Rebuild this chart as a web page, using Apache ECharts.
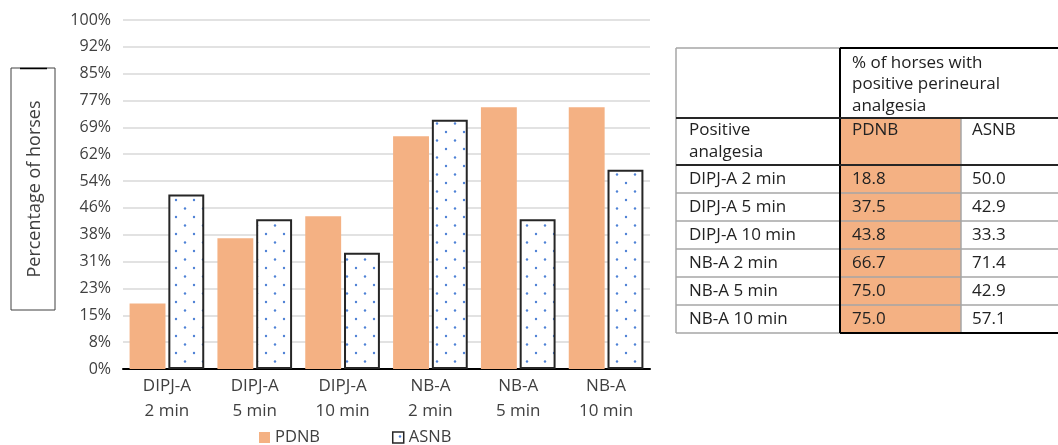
<!DOCTYPE html>
<html><head><meta charset="utf-8">
<script src="https://cdn.jsdelivr.net/npm/echarts@6.0.0/dist/echarts.min.js"></script>
<style>html,body{margin:0;padding:0;background:#fff}#c{width:1058px;height:445px}</style>
</head><body><div id="c"></div>
<script>
const categories = ['DIPJ-A\n2 min', 'DIPJ-A\n5 min', 'DIPJ-A\n10 min', 'NB-A\n2 min', 'NB-A\n5 min', 'NB-A\n10 min'];
const pdnb = [18.8, 37.5, 43.8, 66.7, 75.0, 75.0];
const asnb = [50.0, 42.9, 33.3, 71.4, 42.9, 57.1];
const yTickLabels = ['0%','8%','15%','23%','31%','38%','46%','54%','62%','69%','77%','85%','92%','100%'];
const seriesNames = ['PDNB', 'ASNB'];
const yTitle = 'Percentage of horses';
const tableTitle = ['% of horses with', 'positive perineural', 'analgesia'];
const tableRowHead = ['Positive', 'analgesia'];

const FONT = '"Open Sans", sans-serif';
const ORANGE = '#f4b183';
const GRAY = '#a6a6a6';

// dotted pattern for ASNB
const pc = document.createElement('canvas');
pc.width = 18; pc.height = 17;
const pctx = pc.getContext('2d');
pctx.fillStyle = '#fff'; pctx.fillRect(0, 0, 18, 17);
pctx.fillStyle = '#4f82d6';
pctx.beginPath(); pctx.arc(5, 4.5, 1.2, 0, Math.PI * 2); pctx.fill();
pctx.beginPath(); pctx.arc(14, 13, 1.2, 0, Math.PI * 2); pctx.fill();

const chart = echarts.init(document.getElementById('c'), null, {renderer: 'canvas'});

// table geometry
const cx = [676, 840, 961, 1058];
const ry = [48, 118, 165, 193, 221, 249, 277, 305, 333];
const g = [];
function line(x1, y1, x2, y2, color, w) {
  g.push({type: 'line', z: 10, shape: {x1, y1, x2, y2}, style: {stroke: color, lineWidth: w}});
}
function txt(x, y, s) {
  g.push({type: 'text', z: 11, x, y, style: {text: s, font: '17px ' + FONT, fill: '#222', verticalAlign: 'middle', align: 'left'}});
}
// orange fill for PDNB column
g.push({type: 'rect', z: 5, shape: {x: cx[1], y: ry[1], width: cx[2] - cx[1], height: ry[ry.length - 1] - ry[1]}, style: {fill: ORANGE}});
// gray lines
line(cx[0], ry[0], cx[1], ry[0], GRAY, 1.5);
line(cx[0], ry[0], cx[0], ry[8], GRAY, 1.5);
line(cx[0], ry[8], cx[1], ry[8], GRAY, 1.5);
for (let i = 3; i < 8; i++) line(cx[0], ry[i], cx[3], ry[i], GRAY, 1.5);
line(cx[2], ry[1], cx[2], ry[8], GRAY, 1.5);
// black lines
line(cx[1], ry[0], cx[3], ry[0], '#000', 2);
line(cx[1], ry[0], cx[1], ry[8], '#000', 2);
line(cx[0], ry[1], cx[3], ry[1], '#262626', 2);
line(cx[0], ry[2], cx[3], ry[2], '#262626', 2);
line(cx[1], ry[8], cx[3], ry[8], '#000', 2);
// header texts
tableTitle.forEach((s, i) => txt(852, 63 + i * 21.5, s));
tableRowHead.forEach((s, i) => txt(689, 130 + i * 22, s));
txt(852, 130, seriesNames[0]);
txt(972, 130, seriesNames[1]);
categories.forEach((c, i) => {
  const yc = (ry[i + 2] + ry[i + 3]) / 2;
  txt(689, yc, c.replace('\n', ' '));
  txt(852, yc, pdnb[i].toFixed(1));
  txt(972, yc, asnb[i].toFixed(1));
});
// y axis title box
g.push({type: 'rect', z: 10, shape: {x: 11, y: 68, width: 44, height: 242}, style: {fill: 'none', stroke: '#404040', lineWidth: 1}});
line(20, 68.5, 47, 68.5, '#000', 1.5);
g.push({type: 'text', z: 11, x: 35, y: 189, rotation: Math.PI / 2,
  style: {text: yTitle, font: '18px ' + FONT, fill: '#404040', align: 'center', verticalAlign: 'middle'}});
// dot in ASNB legend icon
g.push({type: 'circle', z: 20, shape: {cx: 400, cy: 436.5, r: 1.2}, style: {fill: '#4f82d6'}});

const option = {
  backgroundColor: '#fff',
  animation: false,
  textStyle: {fontFamily: FONT},
  grid: {left: 123, right: 408, top: 20, bottom: 76, containLabel: false},
  legend: {
    left: 259, top: 429, padding: 0, itemWidth: 11, itemHeight: 11, itemGap: 72, icon: 'rect',
    textStyle: {fontSize: 16.5, color: '#404040', fontFamily: FONT},
    data: [
      {name: seriesNames[0], itemStyle: {color: ORANGE}},
      {name: seriesNames[1], itemStyle: {color: '#fff', borderColor: '#262626', borderWidth: 1.5}}
    ]
  },
  xAxis: {
    type: 'category', data: categories,
    axisLine: {lineStyle: {color: '#000', width: 2}},
    axisTick: {show: false},
    axisLabel: {fontSize: 17, color: '#404040', lineHeight: 25, margin: 5, fontFamily: FONT, interval: 0}
  },
  yAxis: {
    type: 'value', min: 0, max: 100, interval: 100 / 13,
    axisLine: {show: false}, axisTick: {show: false},
    splitLine: {lineStyle: {color: '#d9d9d9', width: 1.5}},
    axisLabel: {fontSize: 16, color: '#404040', margin: 12, fontFamily: FONT,
      formatter: v => yTickLabels[Math.round(v * 13 / 100)]}
  },
  series: [
    {name: seriesNames[0], type: 'bar', data: pdnb, barGap: '8%', barCategoryGap: '15%',
      itemStyle: {color: ORANGE}},
    {name: seriesNames[1], type: 'bar', data: asnb,
      itemStyle: {color: {image: pc, repeat: 'repeat'}, borderColor: '#262626', borderWidth: 2}}
  ],
  graphic: g
};
chart.setOption(option);
</script>
</body></html>
